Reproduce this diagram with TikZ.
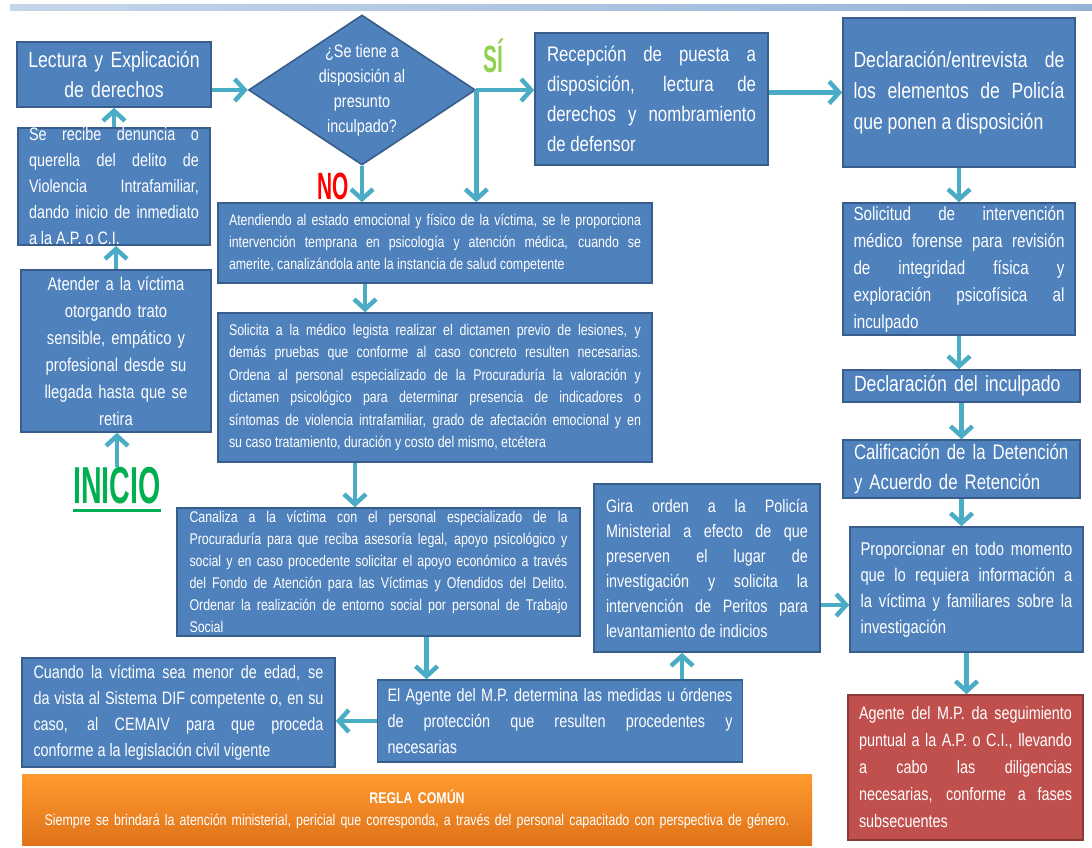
\documentclass[tikz,border=0pt]{standalone}
\usepackage{fontspec}
\setmainfont[FakeStretch=0.8]{Liberation Sans}
\newfontfamily\titfont[FakeStretch=0.55]{Liberation Sans}
\usepackage{xcolor}
\usetikzlibrary{arrows.meta,shapes.geometric}
\definecolor{cajaazul}{HTML}{4F81BD}
\definecolor{bordeazul}{HTML}{385D8A}
\definecolor{flechaazul}{HTML}{4BACC6}
\definecolor{cajaroja}{HTML}{C0504D}
\definecolor{borderoja}{HTML}{8C3836}
\definecolor{naranjaalto}{HTML}{FF9A2E}
\definecolor{naranjabajo}{HTML}{E0731A}
\definecolor{verdesi}{HTML}{92D050}
\definecolor{verdeinicio}{HTML}{00B050}
\definecolor{barraclara}{HTML}{C5D5EA}
\definecolor{barraoscura}{HTML}{95B3D7}
\hyphenpenalty=10000
\exhyphenpenalty=10000

\begin{document}
\begin{tikzpicture}[x=1pt,y=-1pt,
  caja/.style={draw=bordeazul,fill=cajaazul,line width=1.6pt,text=white,inner xsep=10pt,inner ysep=2pt},
  cajaj/.style={caja,align=justify},
  cajac/.style={caja,align=center},
  cajal/.style={caja,align=left},
  rombo/.style={shape=diamond,aspect=1.51,draw=bordeazul,fill=cajaazul,line width=1.6pt,text=white,inner sep=0pt,align=center,
    minimum width=227pt,minimum height=150pt,font=\fontsize{18}{25}\selectfont},
  chico/.style={font=\fontsize{15.5}{22}\selectfont},
  medio/.style={font=\fontsize{18}{26}\selectfont},
  grande/.style={font=\fontsize{22}{30}\selectfont},
  etiqueta/.style={inner sep=0pt,font=\titfont\bfseries\fontsize{38}{38}\selectfont},
  flecha/.style={draw=flechaazul,line width=4.5pt,-{Straight Barb[length=10pt,width=22pt]}}]
\useasboundingbox (0,0) rectangle (1092,847);
\fill[left color=barraclara,right color=barraoscura] (10,4) rectangle (1092,10);
% columna izquierda
\node[cajac,grande,minimum width=192pt,minimum height=65pt,text width=174pt] (lectura) at (114,74.5) {Lectura y Explicación\\de derechos};
\node[cajaj,medio,minimum width=192pt,minimum height=117pt,text width=170pt,inner ysep=0pt] (recibe) at (114,186.5) {Se recibe denuncia o \linebreak querella del delito de \linebreak Violencia Intrafamiliar, \linebreak dando inicio de inmediato \linebreak a la A.P. o C.I.};
\node[cajac,font=\fontsize{18.5}{27}\selectfont,minimum width=188pt,minimum height=162pt,text width=170pt] (atender) at (116,351) {Atender a la víctima\\otorgando trato\\sensible, empático y\\profesional desde su\\llegada hasta que se\\retira};
\node[inner sep=0pt,text=verdeinicio,font=\titfont\bfseries\fontsize{52}{52}\selectfont] (inicio) at (117,486) {INICIO};
\draw[verdeinicio,line width=2.5pt] ([yshift=-6pt]inicio.south west) -- ([yshift=-6pt]inicio.south east);
\node[cajaj,medio,minimum width=313pt,minimum height=109pt,text width=290pt] (cuando) at (178.5,712.5) {Cuando la víctima sea menor de edad, se \linebreak da vista al Sistema DIF competente o, en su \linebreak caso, al CEMAIV para que proceda \linebreak conforme a la legislación civil vigente};
% decision
\node[rombo] (rombo) at (362,90) {¿Se tiene a\\disposición al\\presunto\\inculpado?};
\node[etiqueta,text=verdesi] (si) at (493,56) {SÍ};
\node[etiqueta,text=red] (no) at (333,186) {NO};
% columna central
\node[cajaj,chico,minimum width=434pt,minimum height=80pt,text width=412pt] (atendiendo) at (435,243) {Atendiendo al estado emocional y físico de la víctima, se le proporciona \linebreak intervención temprana en psicología y atención médica, cuando se \linebreak amerite, canalizándola ante la instancia de salud competente};
\node[cajaj,font=\fontsize{15.5}{22.5}\selectfont,minimum width=434pt,minimum height=149pt,text width=412pt] (solicita) at (435,387.5) {Solicita a la médico legista realizar el dictamen previo de lesiones, y \linebreak demás pruebas que conforme al caso concreto resulten necesarias. \linebreak Ordena al personal especializado de la Procuraduría la valoración y \linebreak dictamen psicológico para determinar presencia de indicadores o \linebreak síntomas de violencia intrafamiliar, grado de afectación emocional y en \linebreak su caso tratamiento, duración y costo del mismo, etcétera};
\node[cajaj,chico,minimum width=403pt,minimum height=128pt,text width=378pt,inner ysep=0pt] (canaliza) at (378.5,572) {Canaliza a la víctima con el personal especializado de la \linebreak Procuraduría para que reciba asesoría legal, apoyo psicológico y \linebreak social y en caso procedente solicitar el apoyo económico a través \linebreak del Fondo de Atención para las Víctimas y Ofendidos del Delito. \linebreak Ordenar la realización de entorno social por personal de Trabajo \linebreak Social};
\node[cajaj,medio,minimum width=364pt,minimum height=82pt,text width=345pt] (agente) at (560,721) {El Agente del M.P. determina las medidas u órdenes \linebreak de protección que resulten procedentes y \linebreak necesarias};
\node[cajaj,font=\fontsize{18}{25}\selectfont,minimum width=226pt,minimum height=168pt,text width=202pt] (gira) at (707,568) {Gira orden a la Policía \linebreak Ministerial a efecto de que \linebreak preserven el lugar de \linebreak investigación y solicita la \linebreak intervención de Peritos para \linebreak levantamiento de indicios};
\node[cajaj,font=\fontsize{21}{30}\selectfont,minimum width=233pt,minimum height=132pt,text width=209pt] (recepcion) at (651.5,99) {Recepción de puesta a \linebreak disposición, lectura de \linebreak derechos y nombramiento \linebreak de defensor};
% columna derecha
\node[cajaj,font=\fontsize{22}{31}\selectfont,minimum width=232pt,minimum height=149pt,text width=211pt] (declaracion) at (959,92.5) {Declaración/entrevista de \linebreak los elementos de Policía \linebreak que ponen a disposición};
\node[cajaj,font=\fontsize{19}{27}\selectfont,minimum width=232pt,minimum height=132pt,text width=211pt] (solicitud) at (959,269) {Solicitud de intervención \linebreak médico forense para revisión \linebreak de integridad física y \linebreak exploración psicofísica al \linebreak inculpado};
\node[cajal,grande,minimum width=237pt,minimum height=32pt,text width=215pt,inner ysep=0pt] (declinc) at (961.5,386) {Declaración del inculpado};
\node[cajal,font=\fontsize{21}{30}\selectfont,minimum width=237pt,minimum height=58pt,text width=215pt,inner ysep=0pt] (calif) at (961.5,469) {Calificación de la Detención\\y Acuerdo de Retención};
\node[cajaj,font=\fontsize{18.5}{26}\selectfont,minimum width=233pt,minimum height=125pt,text width=212pt] (proporc) at (966.5,589.5) {Proporcionar en todo momento \linebreak que lo requiera información a \linebreak la víctima y familiares sobre la \linebreak investigación};
\node[cajaj,font=\fontsize{18}{27}\selectfont,fill=cajaroja,draw=borderoja,minimum width=235pt,minimum height=145pt,text width=213pt] (seguim) at (965.5,767.5) {Agente del M.P. da seguimiento \linebreak puntual a la A.P. o C.I., llevando \linebreak a cabo las diligencias \linebreak necesarias, conforme a fases \linebreak subsecuentes};
% regla comun
\node[top color=naranjaalto,bottom color=naranjabajo,text=white,align=center,minimum width=790pt,minimum height=71pt,text width=775pt,font=\fontsize{15.5}{22}\selectfont] (regla) at (417,809.5) {\textbf{REGLA COMÚN}\\Siempre se brindará la atención ministerial, pericial que corresponda, a través del personal capacitado con perspectiva de género.};
% flechas
\draw[flecha] (lectura.east |- rombo.west) -- (rombo.west);
\draw[flecha] (rombo.east) -- (rombo.east -| recepcion.west);
\draw[flecha] (rombo.east) -- (rombo.east |- atendiendo.north);
\draw[flecha] (rombo.south) -- (rombo.south |- atendiendo.north);
\draw[flecha] (recepcion.east |- declaracion.west) -- (declaracion.west);
\draw[flecha] (recibe.north) -- (recibe.north |- lectura.south);
\draw[flecha] (atender.north) -- (atender.north |- recibe.south);
\draw[flecha] (inicio.north) -- (inicio.north |- atender.south);
\draw[flecha] ([xshift=-70pt]atendiendo.south) -- ([xshift=-70pt]atendiendo.south |- solicita.north);
\draw[flecha] ([xshift=-80pt]solicita.south) -- ([xshift=-80pt]solicita.south |- canaliza.north);
\draw[flecha] ([xshift=48pt]canaliza.south) -- ([xshift=48pt]canaliza.south |- agente.north);
\draw[flecha] (agente.west) -- (agente.west -| cuando.east);
\draw[flecha] ([xshift=122pt]agente.north) -- ([xshift=122pt]agente.north |- gira.south);
\draw[flecha] ([yshift=-37pt]gira.east) -- ([yshift=-37pt]gira.east -| proporc.west);
\foreach \a/\b in {declaracion/solicitud,solicitud/declinc,declinc/calif,calif/proporc,proporc/seguim}
  \draw[flecha] (\a.south) -- (\a.south |- \b.north);
\end{tikzpicture}
\end{document}
